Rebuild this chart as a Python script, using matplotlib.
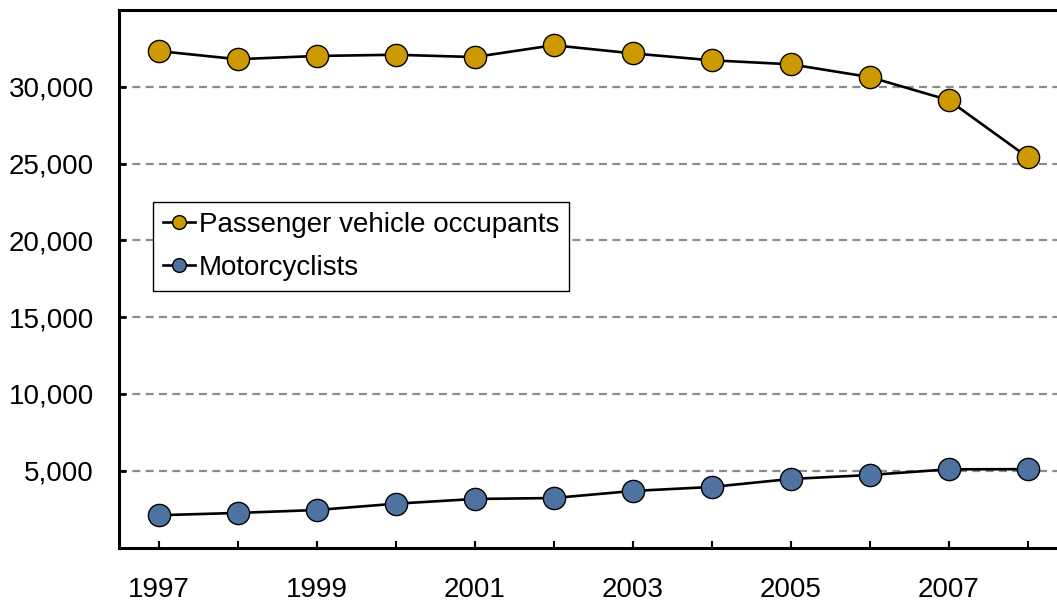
import matplotlib
matplotlib.use("Agg")
import matplotlib.pyplot as plt
from matplotlib.ticker import FuncFormatter

# data
years = [1997, 1998, 1999, 2000, 2001, 2002, 2003, 2004, 2005, 2006, 2007, 2008]
passenger = [32320, 31790, 32000, 32080, 31930, 32700, 32170, 31720, 31460, 30630, 29130, 25420]
motorcyclists = [2100, 2250, 2440, 2850, 3160, 3220, 3680, 3940, 4460, 4720, 5090, 5100]
y_ticks = [5000, 10000, 15000, 20000, 25000, 30000]

plt.rcParams['font.family'] = ['Liberation Sans', 'DejaVu Sans']

fig = plt.figure(figsize=(10.57, 6.02), dpi=100)
W, H = 1057, 602
# right edge lies a little beyond the image, like the reference crop
ax = fig.add_axes([119 / W, 1 - 547.5 / H, (1067 - 119) / W, (547.5 - 9.9) / H])

gold = '#CC9900'
blue = '#4E73A0'

for yv in y_ticks:
    ax.axhline(yv, color='#8C8C8C', lw=1.6, ls=(0, (3.6, 2.4)), zorder=1)

ax.plot(years, passenger, color='black', lw=1.9, marker='o', ms=16,
        mfc=gold, mec='black', mew=1.0, label='Passenger vehicle occupants', zorder=3)
ax.plot(years, motorcyclists, color='black', lw=1.9, marker='o', ms=16,
        mfc=blue, mec='black', mew=1.0, label='Motorcyclists', zorder=3)

ax.set_xlim(1996.5, 2008.5)
ax.set_ylim(0, 35000)

ax.set_xticks(years)
ax.set_xticklabels([str(y) if y % 2 == 1 else '' for y in years])
ax.set_yticks(y_ticks)
ax.yaxis.set_major_formatter(FuncFormatter(lambda v, p: f'{int(v):,}'))

ax.tick_params(axis='x', direction='in', length=5, width=1.5, pad=21, labelsize=20)
ax.tick_params(axis='y', direction='in', length=5, width=2, pad=18, labelsize=20)

for s in ax.spines.values():
    s.set_linewidth(2.2)
    s.set_color('black')

leg = ax.legend(loc='upper left', bbox_to_anchor=(152.7 / W, 1 - 201.7 / H),
                bbox_transform=fig.transFigure, borderaxespad=0, fontsize=20,
                frameon=True, fancybox=False, framealpha=1, edgecolor='black',
                markerscale=0.62, handlelength=1.15, handletextpad=0.15,
                labelspacing=0.62, borderpad=0.36)
leg.get_frame().set_linewidth(1.0)

fig.savefig('out.png', dpi=100)
